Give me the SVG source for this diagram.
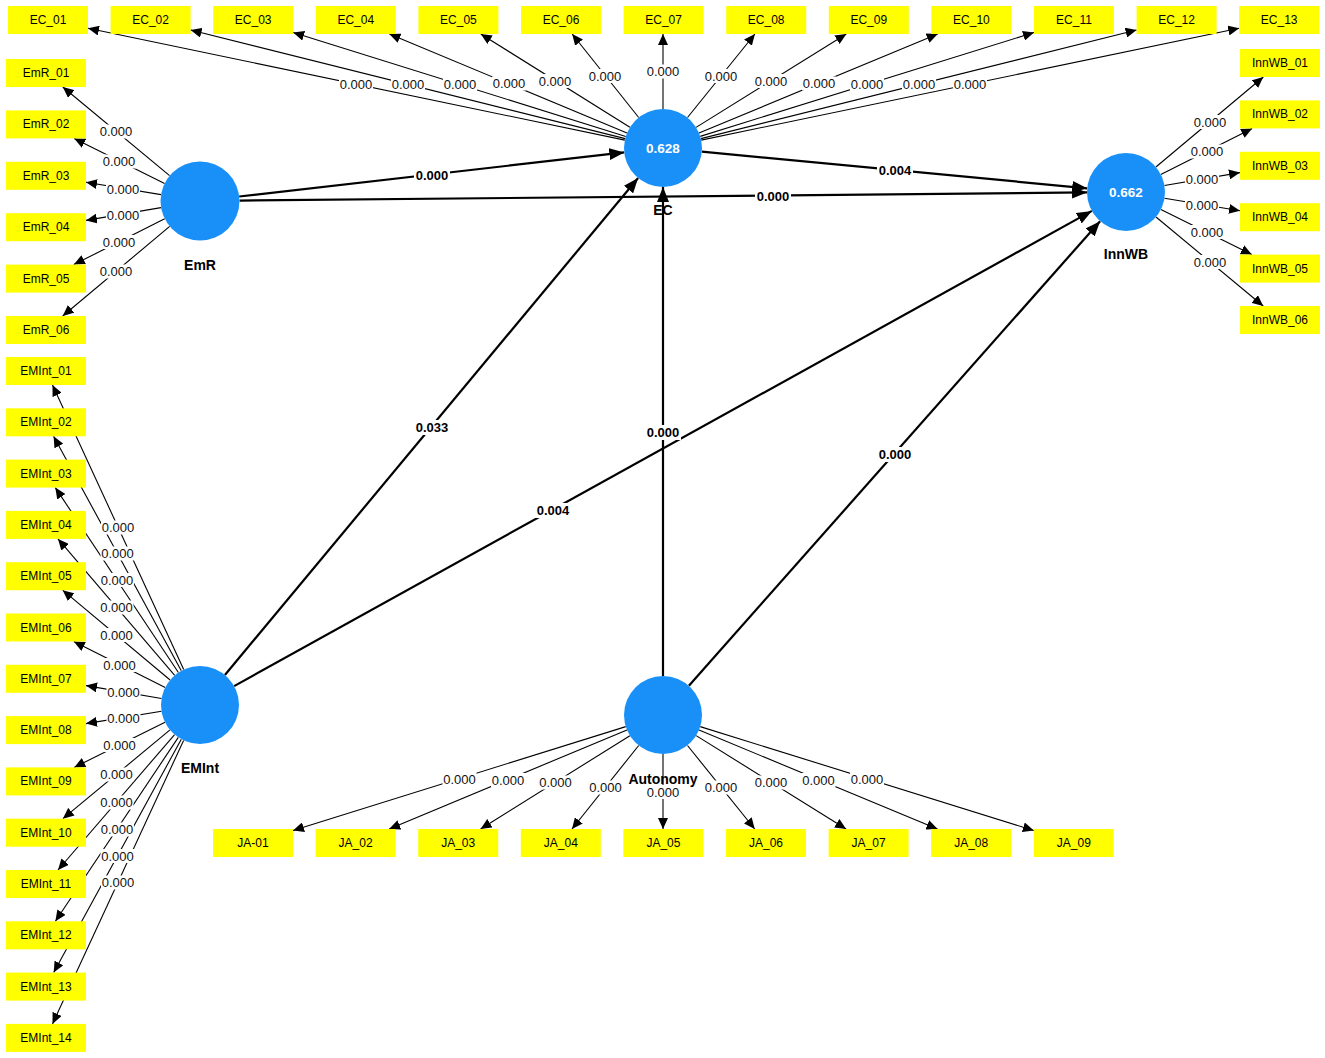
<svg xmlns="http://www.w3.org/2000/svg" width="1325" height="1058" viewBox="0 0 1325 1058">
<style>
text{font-family:"Liberation Sans",Arial,sans-serif;text-anchor:middle;dominant-baseline:central}
.ind rect{fill:#ffff00}
.ind text{font-size:12px;fill:#000}
.lv circle{fill:#1990f8}
.lv .nm{font-size:14px;font-weight:bold;fill:#000}
.lv .r2{font-size:13.5px;font-weight:bold;fill:#fff}
.ld{stroke:#000;stroke-width:1.1;fill:none;marker-end:url(#ah)}
.pt{stroke:#000;stroke-width:2.2;fill:none;marker-end:url(#ahb)}
.lb{fill:#fff}
.lt{font-size:13px;fill:#111}
.bt{font-size:13px;font-weight:bold;fill:#000}
</style>
<defs>
<marker id="ah" markerUnits="userSpaceOnUse" markerWidth="11" markerHeight="10" refX="11" refY="5" orient="auto"><path d="M0,0 L11,5 L0,10 z" fill="#000"/></marker>
<marker id="ahb" markerUnits="userSpaceOnUse" markerWidth="15" markerHeight="12" refX="15" refY="6" orient="auto"><path d="M0,0 L15,6 L0,12 z" fill="#000"/></marker>
</defs>
<rect width="1325" height="1058" fill="#fff"/>
<g id="connectors">
<!-- EC loadings -->
<line class="ld" x1="624.8" y1="140.1" x2="88" y2="28.3"/>
<line class="ld" x1="625.2" y1="138.6" x2="190.6" y2="30"/>
<line class="ld" x1="625.8" y1="136.4" x2="293.2" y2="32.5"/>
<line class="ld" x1="627" y1="133" x2="389.4" y2="34"/>
<line class="ld" x1="629.9" y1="127.3" x2="480.8" y2="34"/>
<line class="ld" x1="638.7" y1="117.5" x2="572.2" y2="34"/>
<line class="ld" x1="663" y1="109" x2="663" y2="34"/>
<line class="ld" x1="687.5" y1="117.5" x2="754.9" y2="34"/>
<line class="ld" x1="696.1" y1="127.4" x2="846.3" y2="34"/>
<line class="ld" x1="699" y1="133" x2="937.7" y2="34"/>
<line class="ld" x1="700.2" y1="136.4" x2="1034" y2="32.5"/>
<line class="ld" x1="700.9" y1="138.6" x2="1136.6" y2="30"/>
<line class="ld" x1="701.2" y1="140.1" x2="1239.2" y2="28.3"/>
<!-- EmR loadings -->
<line class="ld" x1="169.6" y1="175.7" x2="62.8" y2="87"/>
<line class="ld" x1="164.6" y1="183.4" x2="74.2" y2="138.4"/>
<line class="ld" x1="161" y1="194.6" x2="86" y2="182.3"/>
<line class="ld" x1="161" y1="207.6" x2="86" y2="220.4"/>
<line class="ld" x1="164.7" y1="218.8" x2="73.8" y2="264.6"/>
<line class="ld" x1="169.7" y1="226.4" x2="62.7" y2="316"/>
<!-- InnWB loadings -->
<line class="ld" x1="1155.9" y1="167" x2="1263.3" y2="77"/>
<line class="ld" x1="1160.8" y1="174.4" x2="1252.2" y2="128.4"/>
<line class="ld" x1="1164.5" y1="185.5" x2="1240" y2="172.6"/>
<line class="ld" x1="1164.5" y1="198.3" x2="1240" y2="210.7"/>
<line class="ld" x1="1160.9" y1="209.4" x2="1251.8" y2="254.6"/>
<line class="ld" x1="1156" y1="217" x2="1263.2" y2="306"/>
<!-- EMInt loadings -->
<line class="ld" x1="183.7" y1="669.6" x2="52.5" y2="385"/>
<line class="ld" x1="181.3" y1="670.7" x2="53.6" y2="436.3"/>
<line class="ld" x1="178.4" y1="672.5" x2="55.3" y2="487.6"/>
<line class="ld" x1="174.7" y1="675.4" x2="58" y2="538.9"/>
<line class="ld" x1="170.1" y1="680" x2="62.7" y2="590.2"/>
<line class="ld" x1="165.2" y1="687.5" x2="73.8" y2="641.5"/>
<line class="ld" x1="161.5" y1="698.5" x2="86" y2="685.6"/>
<line class="ld" x1="161.5" y1="711.3" x2="86" y2="723.6"/>
<line class="ld" x1="165" y1="722.3" x2="74.2" y2="767.4"/>
<line class="ld" x1="170" y1="729.9" x2="62.9" y2="818.7"/>
<line class="ld" x1="174.6" y1="734.6" x2="58" y2="870"/>
<line class="ld" x1="178.3" y1="737.4" x2="55.4" y2="921.3"/>
<line class="ld" x1="181.3" y1="739.2" x2="53.7" y2="972.6"/>
<line class="ld" x1="183.6" y1="740.4" x2="52.5" y2="1023.9"/>
<!-- Autonomy loadings -->
<line class="ld" x1="625.8" y1="726.6" x2="293" y2="830.5"/>
<line class="ld" x1="627" y1="730" x2="389.2" y2="829"/>
<line class="ld" x1="629.9" y1="735.7" x2="480.6" y2="829"/>
<line class="ld" x1="638.7" y1="745.5" x2="572" y2="829"/>
<line class="ld" x1="663" y1="754" x2="663" y2="829"/>
<line class="ld" x1="687.5" y1="745.5" x2="754.7" y2="829"/>
<line class="ld" x1="696.2" y1="735.6" x2="846.1" y2="829"/>
<line class="ld" x1="699" y1="730" x2="937.5" y2="829"/>
<line class="ld" x1="700.2" y1="726.6" x2="1033.8" y2="830.5"/>
<!-- structural paths -->
<line class="pt" x1="239.2" y1="196.5" x2="624.3" y2="152.4"/>
<line class="pt" x1="701.8" y1="151.7" x2="1087.2" y2="188.3"/>
<line class="pt" x1="239.5" y1="200.6" x2="1087" y2="192.4"/>
<line class="pt" x1="224.9" y1="675" x2="638.1" y2="178"/>
<line class="pt" x1="234.1" y1="686.1" x2="1091.9" y2="210.9"/>
<line class="pt" x1="663" y1="676" x2="663" y2="187"/>
<line class="pt" x1="688.9" y1="685.8" x2="1100.1" y2="221.2"/>
<!-- loading labels -->
<g id="lbl-ec">
<rect class="lb" x="339" y="77" width="34" height="14"/><text class="lt" x="356" y="84">0.000</text>
<rect class="lb" x="391" y="77" width="34" height="14"/><text class="lt" x="408" y="84">0.000</text>
<rect class="lb" x="443" y="77.5" width="34" height="14"/><text class="lt" x="460" y="84.5">0.000</text>
<rect class="lb" x="492" y="76.5" width="34" height="14"/><text class="lt" x="509" y="83.5">0.000</text>
<rect class="lb" x="538" y="74" width="34" height="14"/><text class="lt" x="555" y="81">0.000</text>
<rect class="lb" x="588" y="69" width="34" height="14"/><text class="lt" x="605" y="76">0.000</text>
<rect class="lb" x="646" y="64.5" width="34" height="14"/><text class="lt" x="663" y="71.5">0.000</text>
<rect class="lb" x="704" y="69" width="34" height="14"/><text class="lt" x="721" y="76">0.000</text>
<rect class="lb" x="754" y="74" width="34" height="14"/><text class="lt" x="771" y="81">0.000</text>
<rect class="lb" x="802" y="76.5" width="34" height="14"/><text class="lt" x="819" y="83.5">0.000</text>
<rect class="lb" x="850" y="77.5" width="34" height="14"/><text class="lt" x="867" y="84.5">0.000</text>
<rect class="lb" x="902" y="77" width="34" height="14"/><text class="lt" x="919" y="84">0.000</text>
<rect class="lb" x="953" y="77" width="34" height="14"/><text class="lt" x="970" y="84">0.000</text>
</g>
<g id="lbl-emr">
<rect class="lb" x="99" y="124.5" width="34" height="14"/><text class="lt" x="116" y="131.5">0.000</text>
<rect class="lb" x="102" y="154.5" width="34" height="14"/><text class="lt" x="119" y="161.5">0.000</text>
<rect class="lb" x="106" y="182" width="34" height="14"/><text class="lt" x="123" y="189">0.000</text>
<rect class="lb" x="106" y="208" width="34" height="14"/><text class="lt" x="123" y="215">0.000</text>
<rect class="lb" x="102" y="235" width="34" height="14"/><text class="lt" x="119" y="242">0.000</text>
<rect class="lb" x="99" y="264.5" width="34" height="14"/><text class="lt" x="116" y="271.5">0.000</text>
</g>
<g id="lbl-innwb">
<rect class="lb" x="1193" y="115" width="34" height="14"/><text class="lt" x="1210" y="122">0.000</text>
<rect class="lb" x="1190" y="144.5" width="34" height="14"/><text class="lt" x="1207" y="151.5">0.000</text>
<rect class="lb" x="1185" y="172" width="34" height="14"/><text class="lt" x="1202" y="179">0.000</text>
<rect class="lb" x="1185" y="198" width="34" height="14"/><text class="lt" x="1202" y="205">0.000</text>
<rect class="lb" x="1190" y="225" width="34" height="14"/><text class="lt" x="1207" y="232">0.000</text>
<rect class="lb" x="1193" y="255" width="34" height="14"/><text class="lt" x="1210" y="262">0.000</text>
</g>
<g id="lbl-emint">
<rect class="lb" x="101" y="520.5" width="34" height="14"/><text class="lt" x="118" y="527.5">0.000</text>
<rect class="lb" x="100.5" y="546.5" width="34" height="14"/><text class="lt" x="117.5" y="553.5">0.000</text>
<rect class="lb" x="100" y="573" width="34" height="14"/><text class="lt" x="117" y="580">0.000</text>
<rect class="lb" x="99.5" y="600.5" width="34" height="14"/><text class="lt" x="116.5" y="607.5">0.000</text>
<rect class="lb" x="99.5" y="628" width="34" height="14"/><text class="lt" x="116.5" y="635">0.000</text>
<rect class="lb" x="102.5" y="658" width="34" height="14"/><text class="lt" x="119.5" y="665">0.000</text>
<rect class="lb" x="106.5" y="685" width="34" height="14"/><text class="lt" x="123.5" y="692">0.000</text>
<rect class="lb" x="106.5" y="711" width="34" height="14"/><text class="lt" x="123.5" y="718">0.000</text>
<rect class="lb" x="102.5" y="738" width="34" height="14"/><text class="lt" x="119.5" y="745">0.000</text>
<rect class="lb" x="99.5" y="767.5" width="34" height="14"/><text class="lt" x="116.5" y="774.5">0.000</text>
<rect class="lb" x="99.5" y="795.5" width="34" height="14"/><text class="lt" x="116.5" y="802.5">0.000</text>
<rect class="lb" x="100" y="822.5" width="34" height="14"/><text class="lt" x="117" y="829.5">0.000</text>
<rect class="lb" x="100.5" y="849" width="34" height="14"/><text class="lt" x="117.5" y="856">0.000</text>
<rect class="lb" x="101" y="875.5" width="34" height="14"/><text class="lt" x="118" y="882.5">0.000</text>
</g>
<g id="lbl-ja">
<rect class="lb" x="442.5" y="772" width="34" height="14"/><text class="lt" x="459.5" y="779">0.000</text>
<rect class="lb" x="491" y="773" width="34" height="14"/><text class="lt" x="508" y="780">0.000</text>
<rect class="lb" x="538.5" y="775.5" width="34" height="14"/><text class="lt" x="555.5" y="782.5">0.000</text>
<rect class="lb" x="588.5" y="780.5" width="34" height="14"/><text class="lt" x="605.5" y="787.5">0.000</text>
<rect class="lb" x="646" y="785" width="34" height="14"/><text class="lt" x="663" y="792">0.000</text>
<rect class="lb" x="704" y="780.5" width="34" height="14"/><text class="lt" x="721" y="787.5">0.000</text>
<rect class="lb" x="754" y="775.5" width="34" height="14"/><text class="lt" x="771" y="782.5">0.000</text>
<rect class="lb" x="801.5" y="773" width="34" height="14"/><text class="lt" x="818.5" y="780">0.000</text>
<rect class="lb" x="850" y="772" width="34" height="14"/><text class="lt" x="867" y="779">0.000</text>
</g>
<g id="lbl-paths">
<rect class="lb" x="414" y="168" width="36" height="15"/><text class="bt" x="432" y="175.5">0.000</text>
<rect class="lb" x="877" y="163" width="36" height="15"/><text class="bt" x="895" y="170.5">0.004</text>
<rect class="lb" x="755" y="189" width="36" height="15"/><text class="bt" x="773" y="196.5">0.000</text>
<rect class="lb" x="414" y="420" width="36" height="15"/><text class="bt" x="432" y="427.5">0.033</text>
<rect class="lb" x="535" y="503" width="36" height="15"/><text class="bt" x="553" y="510.5">0.004</text>
<rect class="lb" x="645" y="425" width="36" height="15"/><text class="bt" x="663" y="432.5">0.000</text>
<rect class="lb" x="877" y="447" width="36" height="15"/><text class="bt" x="895" y="454.5">0.000</text>
</g>
</g>
<!-- latent variables -->
<g id="EC" class="lv"><circle cx="663" cy="148" r="39"/><text class="r2" x="663" y="148">0.628</text><text class="nm" x="663" y="210">EC</text></g>
<g id="EmR" class="lv"><circle cx="200" cy="201" r="39.5"/><text class="nm" x="200" y="265">EmR</text></g>
<g id="InnWB" class="lv"><circle cx="1126" cy="192" r="39"/><text class="r2" x="1126" y="192">0.662</text><text class="nm" x="1126" y="254">InnWB</text></g>
<g id="EMInt" class="lv"><circle cx="200" cy="705" r="39"/><text class="nm" x="200" y="768">EMInt</text></g>
<g id="Autonomy" class="lv"><circle cx="663" cy="715" r="39"/><text class="nm" x="663" y="779">Autonomy</text></g>
<!-- indicators -->
<g id="EC_01" class="ind"><rect x="8" y="6" width="80" height="28"/><text x="48" y="20">EC_01</text></g>
<g id="EC_02" class="ind"><rect x="110.6" y="6" width="80" height="28"/><text x="150.6" y="20">EC_02</text></g>
<g id="EC_03" class="ind"><rect x="213.2" y="6" width="80" height="28"/><text x="253.2" y="20">EC_03</text></g>
<g id="EC_04" class="ind"><rect x="315.8" y="6" width="80" height="28"/><text x="355.8" y="20">EC_04</text></g>
<g id="EC_05" class="ind"><rect x="418.4" y="6" width="80" height="28"/><text x="458.4" y="20">EC_05</text></g>
<g id="EC_06" class="ind"><rect x="521" y="6" width="80" height="28"/><text x="561" y="20">EC_06</text></g>
<g id="EC_07" class="ind"><rect x="623.6" y="6" width="80" height="28"/><text x="663.6" y="20">EC_07</text></g>
<g id="EC_08" class="ind"><rect x="726.2" y="6" width="80" height="28"/><text x="766.2" y="20">EC_08</text></g>
<g id="EC_09" class="ind"><rect x="828.8" y="6" width="80" height="28"/><text x="868.8" y="20">EC_09</text></g>
<g id="EC_10" class="ind"><rect x="931.4" y="6" width="80" height="28"/><text x="971.4" y="20">EC_10</text></g>
<g id="EC_11" class="ind"><rect x="1034" y="6" width="80" height="28"/><text x="1074" y="20">EC_11</text></g>
<g id="EC_12" class="ind"><rect x="1136.6" y="6" width="80" height="28"/><text x="1176.6" y="20">EC_12</text></g>
<g id="EC_13" class="ind"><rect x="1239.2" y="6" width="80" height="28"/><text x="1279.2" y="20">EC_13</text></g>
<g id="EmR_01" class="ind"><rect x="6" y="59" width="80" height="28"/><text x="46" y="73">EmR_01</text></g>
<g id="EmR_02" class="ind"><rect x="6" y="110.4" width="80" height="28"/><text x="46" y="124.4">EmR_02</text></g>
<g id="EmR_03" class="ind"><rect x="6" y="161.8" width="80" height="28"/><text x="46" y="175.8">EmR_03</text></g>
<g id="EmR_04" class="ind"><rect x="6" y="213.2" width="80" height="28"/><text x="46" y="227.2">EmR_04</text></g>
<g id="EmR_05" class="ind"><rect x="6" y="264.6" width="80" height="28"/><text x="46" y="278.6">EmR_05</text></g>
<g id="EmR_06" class="ind"><rect x="6" y="316" width="80" height="28"/><text x="46" y="330">EmR_06</text></g>
<g id="InnWB_01" class="ind"><rect x="1240" y="49" width="80" height="28"/><text x="1280" y="63">InnWB_01</text></g>
<g id="InnWB_02" class="ind"><rect x="1240" y="100.4" width="80" height="28"/><text x="1280" y="114.4">InnWB_02</text></g>
<g id="InnWB_03" class="ind"><rect x="1240" y="151.8" width="80" height="28"/><text x="1280" y="165.8">InnWB_03</text></g>
<g id="InnWB_04" class="ind"><rect x="1240" y="203.2" width="80" height="28"/><text x="1280" y="217.2">InnWB_04</text></g>
<g id="InnWB_05" class="ind"><rect x="1240" y="254.6" width="80" height="28"/><text x="1280" y="268.6">InnWB_05</text></g>
<g id="InnWB_06" class="ind"><rect x="1240" y="306" width="80" height="28"/><text x="1280" y="320">InnWB_06</text></g>
<g id="EMInt_01" class="ind"><rect x="6" y="357" width="80" height="28"/><text x="46" y="371">EMInt_01</text></g>
<g id="EMInt_02" class="ind"><rect x="6" y="408.3" width="80" height="28"/><text x="46" y="422.3">EMInt_02</text></g>
<g id="EMInt_03" class="ind"><rect x="6" y="459.6" width="80" height="28"/><text x="46" y="473.6">EMInt_03</text></g>
<g id="EMInt_04" class="ind"><rect x="6" y="510.9" width="80" height="28"/><text x="46" y="524.9">EMInt_04</text></g>
<g id="EMInt_05" class="ind"><rect x="6" y="562.2" width="80" height="28"/><text x="46" y="576.2">EMInt_05</text></g>
<g id="EMInt_06" class="ind"><rect x="6" y="613.5" width="80" height="28"/><text x="46" y="627.5">EMInt_06</text></g>
<g id="EMInt_07" class="ind"><rect x="6" y="664.8" width="80" height="28"/><text x="46" y="678.8">EMInt_07</text></g>
<g id="EMInt_08" class="ind"><rect x="6" y="716.1" width="80" height="28"/><text x="46" y="730.1">EMInt_08</text></g>
<g id="EMInt_09" class="ind"><rect x="6" y="767.4" width="80" height="28"/><text x="46" y="781.4">EMInt_09</text></g>
<g id="EMInt_10" class="ind"><rect x="6" y="818.7" width="80" height="28"/><text x="46" y="832.7">EMInt_10</text></g>
<g id="EMInt_11" class="ind"><rect x="6" y="870" width="80" height="28"/><text x="46" y="884">EMInt_11</text></g>
<g id="EMInt_12" class="ind"><rect x="6" y="921.3" width="80" height="28"/><text x="46" y="935.3">EMInt_12</text></g>
<g id="EMInt_13" class="ind"><rect x="6" y="972.6" width="80" height="28"/><text x="46" y="986.6">EMInt_13</text></g>
<g id="EMInt_14" class="ind"><rect x="6" y="1023.9" width="80" height="28"/><text x="46" y="1037.9">EMInt_14</text></g>
<g id="JA-01" class="ind"><rect x="213" y="829" width="80" height="28"/><text x="253" y="843">JA-01</text></g>
<g id="JA_02" class="ind"><rect x="315.6" y="829" width="80" height="28"/><text x="355.6" y="843">JA_02</text></g>
<g id="JA_03" class="ind"><rect x="418.2" y="829" width="80" height="28"/><text x="458.2" y="843">JA_03</text></g>
<g id="JA_04" class="ind"><rect x="520.8" y="829" width="80" height="28"/><text x="560.8" y="843">JA_04</text></g>
<g id="JA_05" class="ind"><rect x="623.4" y="829" width="80" height="28"/><text x="663.4" y="843">JA_05</text></g>
<g id="JA_06" class="ind"><rect x="726" y="829" width="80" height="28"/><text x="766" y="843">JA_06</text></g>
<g id="JA_07" class="ind"><rect x="828.6" y="829" width="80" height="28"/><text x="868.6" y="843">JA_07</text></g>
<g id="JA_08" class="ind"><rect x="931.2" y="829" width="80" height="28"/><text x="971.2" y="843">JA_08</text></g>
<g id="JA_09" class="ind"><rect x="1033.8" y="829" width="80" height="28"/><text x="1073.8" y="843">JA_09</text></g>
</svg>
